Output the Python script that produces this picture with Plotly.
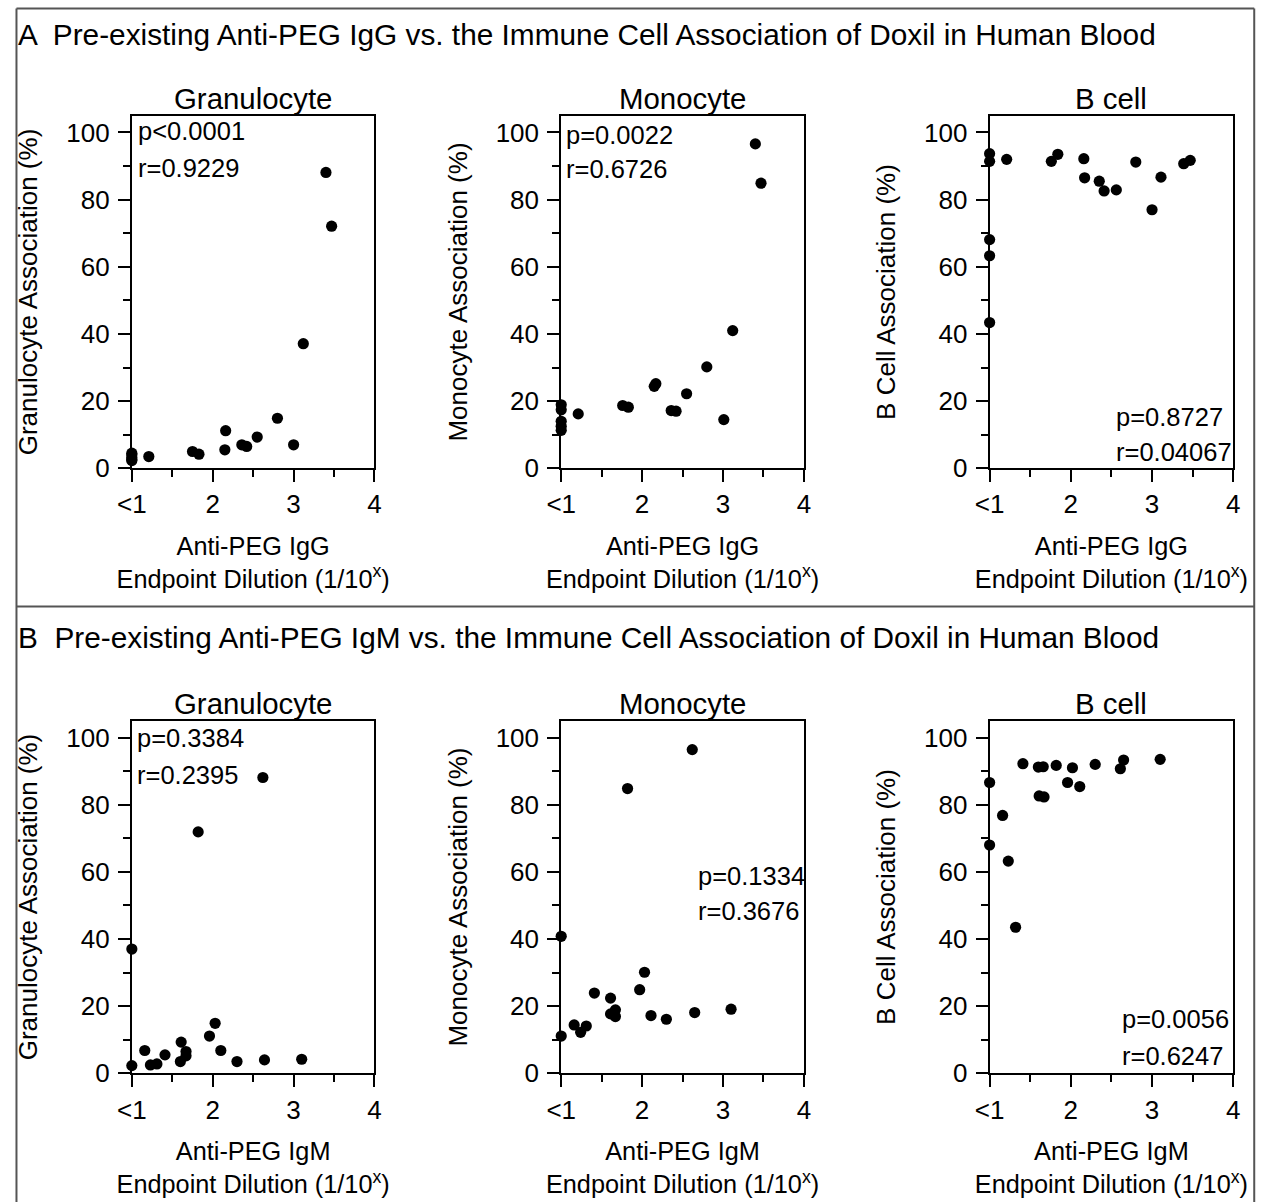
import plotly.graph_objects as go

# ---------------- data ----------------
cells = ["Granulocyte", "Monocyte", "B cell"]
ytitles = ["Granulocyte Association (%)", "Monocyte Association (%)", "B Cell Association (%)"]
x_ticks = [1, 2, 3, 4]
x_ticktext = ["<1", "2", "3", "4"]
y_ticks = [0, 20, 40, 60, 80, 100]

# Panel A: anti-PEG IgG
gran_igg_x = [1, 1, 1, 1, 1, 1.21, 1.75, 1.83, 2.15, 2.16, 2.36, 2.42, 2.55, 2.80, 3.00, 3.12, 3.40, 3.47]
gran_igg_y = [2.3, 2.6, 3.2, 4.0, 4.5, 3.5, 5.0, 4.2, 5.5, 11.2, 7.0, 6.5, 9.3, 14.9, 7.0, 37.1, 88.1, 72.1]

mono_igg_x = [1, 1, 1, 1, 1, 1.21, 1.76, 1.83, 2.15, 2.17, 2.36, 2.42, 2.55, 2.80, 3.01, 3.12, 3.40, 3.47]
mono_igg_y = [18.9, 17.4, 14.0, 12.5, 11.3, 16.2, 18.7, 18.2, 24.4, 25.2, 17.2, 17.0, 22.2, 30.2, 14.5, 41.0, 96.6, 84.9]

bcell_igg_x = [1, 1, 1, 1, 1, 1.21, 1.76, 1.84, 2.16, 2.17, 2.35, 2.41, 2.56, 2.80, 3.00, 3.11, 3.39, 3.47]
bcell_igg_y = [93.7, 91.4, 68.1, 63.3, 43.4, 92.0, 91.4, 93.5, 92.2, 86.5, 85.5, 82.6, 82.9, 91.2, 77.0, 86.7, 90.7, 91.7]

# Panel B: anti-PEG IgM
gran_igm_x = [1, 1, 1.16, 1.23, 1.31, 1.41, 1.60, 1.61, 1.67, 1.67, 1.82, 1.96, 2.03, 2.10, 2.30, 2.62, 2.64, 3.10]
gran_igm_y = [2.3, 37.0, 6.8, 2.5, 2.8, 5.5, 3.5, 9.3, 6.5, 5.2, 71.9, 11.1, 14.9, 6.8, 3.5, 88.1, 4.0, 4.2]

mono_igm_x = [1, 1, 1.16, 1.24, 1.31, 1.41, 1.61, 1.61, 1.67, 1.67, 1.82, 1.97, 2.03, 2.11, 2.30, 2.62, 2.65, 3.10]
mono_igm_y = [11.1, 40.8, 14.4, 12.2, 14.1, 23.9, 22.4, 17.7, 16.9, 18.9, 84.8, 24.9, 30.1, 17.2, 16.1, 96.4, 18.1, 19.1]

bcell_igm_x = [1, 1, 1.16, 1.23, 1.32, 1.41, 1.60, 1.66, 1.61, 1.67, 1.82, 1.96, 2.02, 2.11, 2.30, 2.61, 2.65, 3.10]
bcell_igm_y = [86.6, 68.0, 76.8, 63.2, 43.5, 92.2, 91.2, 91.3, 82.6, 82.3, 91.7, 86.6, 91.0, 85.4, 92.0, 90.7, 93.3, 93.5]

stats_igg = [("p<0.0001", "r=0.9229"), ("p=0.0022", "r=0.6726"), ("p=0.8727", "r=0.04067")]
stats_igm = [("p=0.3384", "r=0.2395"), ("p=0.1334", "r=0.3676"), ("p=0.0056", "r=0.6247")]

section_titles = [
    "A  Pre-existing Anti-PEG IgG vs. the Immune Cell Association of Doxil in Human Blood",
    "B  Pre-existing Anti-PEG IgM vs. the Immune Cell Association of Doxil in Human Blood",
]
antibodies = ["IgG", "IgM"]

# ---------------- layout geometry ----------------
W, H = 1264, 1218
FONT = "Liberation Sans, Arial, Helvetica, sans-serif"
# target positions (pixels of the intended picture) and their mapping
SX, OX, SY, OY = 0.984, 13.0, 0.986, 0.5
col_px = [(130, 373), (560, 803), (989, 1233)]
row_px = [(116, 468), (720, 1072)]   # top, bottom


def fx(xp):
    return (xp - OX) / SX


def fy(yp):
    return (yp - OY) / SY


def px(xp):
    return min(max(fx(xp), 0), W) / W


def py(yp):
    return 1 - min(max(fy(yp), 0), H) / H


# stat annotation positions (data coords: x-left, y for p, y for r)
stat_pos = [
    [(1.05, 100.3, 89.5), (1.04, 99.4, 89.0), (2.53, 15.2, 4.8)],
    [(1.04, 100.0, 88.7), (2.67, 58.8, 48.4), (2.61, 16.1, 5.1)],
]

panels = [
    [(gran_igg_x, gran_igg_y), (mono_igg_x, mono_igg_y), (bcell_igg_x, bcell_igg_y)],
    [(gran_igm_x, gran_igm_y), (mono_igm_x, mono_igm_y), (bcell_igm_x, bcell_igm_y)],
]
stats = [stats_igg, stats_igm]

fig = go.Figure()
annotations = []
idx = 0
for r in range(2):
    for c in range(3):
        idx += 1
        xa = "x" if idx == 1 else f"x{idx}"
        ya = "y" if idx == 1 else f"y{idx}"
        xs, ys = panels[r][c]
        fig.add_trace(go.Scatter(
            x=xs, y=ys, mode="markers", xaxis=xa, yaxis=ya,
            marker=dict(color="black", size=11.2, line=dict(width=0)),
            cliponaxis=False, showlegend=False, hoverinfo="x+y",
        ))
        x0, x1 = col_px[c]
        t, b = row_px[r]
        xkey = "xaxis" if idx == 1 else f"xaxis{idx}"
        ykey = "yaxis" if idx == 1 else f"yaxis{idx}"
        fig.update_layout(**{
            xkey: dict(
                domain=[px(x0), px(x1)], anchor=ya, range=[1, 4],
                showline=True, mirror=True, linecolor="black", linewidth=2,
                showgrid=False, zeroline=False,
                tickmode="array", tickvals=x_ticks, ticktext=x_ticktext,
                ticks="outside", ticklen=12, tickwidth=2, tickcolor="black",
                minor=dict(tickvals=[1.5, 2.5, 3.5], ticks="outside", ticklen=7,
                           tickwidth=2, tickcolor="black", showgrid=False),
                tickfont=dict(size=26, color="black", family=FONT),
                ticklabelstandoff=0,
                title=dict(text=f"Anti-PEG {antibodies[r]}<br>Endpoint Dilution (1/10<sup>x</sup>)",
                           font=dict(size=25.3, color="black", family=FONT), standoff=19),
            ),
            ykey: dict(
                domain=[py(b), py(t)], anchor=xa, range=[0, 105],
                showline=True, mirror=True, linecolor="black", linewidth=2,
                showgrid=False, zeroline=False,
                tickmode="array", tickvals=y_ticks,
                ticks="outside", ticklen=12, tickwidth=2, tickcolor="black",
                minor=dict(dtick=10, ticks="outside", ticklen=7, tickwidth=2,
                           tickcolor="black", showgrid=False),
                tickfont=dict(size=26, color="black", family=FONT),
                ticklabelstandoff=3,
                title=dict(text=ytitles[c], font=dict(size=26, color="black", family=FONT),
                           standoff=21),
            ),
        })
        # subplot title
        annotations.append(dict(
            text=cells[c], x=px((x0 + x1) / 2), y=py(t - 17),
            xref="paper", yref="paper", xanchor="center", yanchor="middle",
            showarrow=False, font=dict(size=29.4, color="black", family=FONT)))
        # stats
        sx, sy_p, sy_r = stat_pos[r][c]
        ptxt, rtxt = stats[r][c]
        for txt, yy in ((ptxt, sy_p), (rtxt, sy_r)):
            annotations.append(dict(
                text=txt, x=sx, y=yy, xref=xa, yref=ya, xanchor="left", yanchor="middle",
                showarrow=False, font=dict(size=25.5, color="black", family=FONT)))

# section titles
for txt, ypx in zip(section_titles, [35, 637]):
    annotations.append(dict(
        text=txt, x=px(14), y=py(ypx), xref="paper", yref="paper",
        xanchor="left", yanchor="middle", showarrow=False,
        font=dict(size=29.8, color="black", family=FONT)))

BORDER = dict(color="#555555", width=2)
left, right, top, sep = 1.5 / W, px(1254), py(9), py(606)
shapes = [
    dict(type="line", xref="paper", yref="paper", x0=left, x1=right, y0=top, y1=top, line=BORDER),
    dict(type="line", xref="paper", yref="paper", x0=left, x1=left, y0=0, y1=top, line=BORDER),
    dict(type="line", xref="paper", yref="paper", x0=right, x1=right, y0=0, y1=top, line=BORDER),
    dict(type="line", xref="paper", yref="paper", x0=left, x1=right, y0=sep, y1=sep, line=BORDER),
]

fig.update_layout(
    width=W, height=H, margin=dict(l=0, r=0, t=0, b=0),
    paper_bgcolor="white", plot_bgcolor="white",
    font=dict(family=FONT, color="black", size=25),
    annotations=annotations, shapes=shapes, showlegend=False,
)

fig.write_html(
    "out.html",
    config={"displayModeBar": False},
    post_script="document.body.style.margin='0';document.body.style.overflow='hidden';",
)
